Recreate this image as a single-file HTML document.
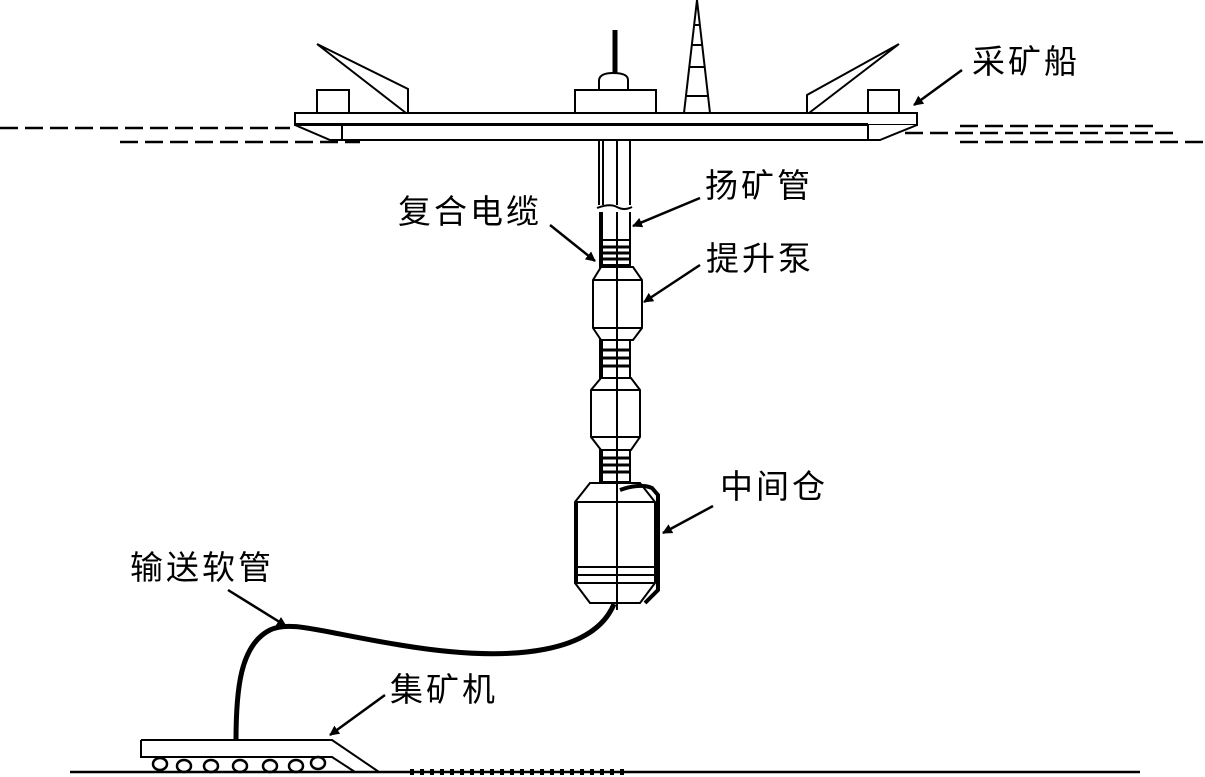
<!DOCTYPE html>
<html><head><meta charset="utf-8"><style>
html,body{margin:0;padding:0;background:#fff;}
svg{display:block;}
text{font-family:"Liberation Sans","Noto Sans CJK SC",sans-serif;font-size:33px;fill:#000;letter-spacing:3px;}
</style></head><body>
<svg width="1205" height="777" viewBox="0 0 1205 777" xmlns="http://www.w3.org/2000/svg">
<defs><marker id="a" markerWidth="10" markerHeight="10" refX="9" refY="5" orient="auto" markerUnits="userSpaceOnUse"><path d="M0,0 L10,5 L0,10 z" fill="#000"/></marker></defs>
<g stroke="#000" fill="none" stroke-width="2">
<path d="M0,128 H290 M120,142 H360 M905,133 H1180 M960,142 H1205 M960,126 H1160" stroke-dasharray="18,7" stroke-width="2.5"/>
<rect x="295" y="113" width="622" height="12" fill="#fff"/>
<path d="M295,125 L330,140 H880 L917,125" fill="#fff"/>
<path d="M295,124.5 H868" stroke-width="3"/>
<path d="M342,125 V140 M868,125 V140"/>
<rect x="317" y="90" width="32" height="23" fill="#fff"/>
<rect x="868" y="90" width="31" height="23" fill="#fff"/>
<path d="M317,44 L408,89 V113 M317,44 L406,113"/>
<path d="M899,44 L807,95 V113 M899,44 L809,113"/>
<rect x="575" y="90" width="81" height="23" fill="#fff"/>
<path d="M599,90 V80 Q600,73 613,73 Q628,73 628,80 V90 z" fill="#fff"/>
<path d="M615,30 V73" stroke-width="5"/>
<path d="M697,0 L684,113 M697,0 L710,113 M686,96 H708 M689,67 H705 M692,45 H702 M694,25 H700"/>
<path d="M599,140 V205 M603,140 V205 M617,140 V205 M630,140 V205"/>
<path d="M597,208 Q610,203 617,207 T632,207"/>
<path d="M601,212 V265 M617,212 V610 M630,212 V265"/>
<path d="M601,212 V600" stroke-width="4"/>
<rect x="601" y="240" width="29" height="25" fill="none"/>
<path d="M601,247 H630 M601,253 H630 M601,259 H630" stroke-width="3"/>
<path d="M601,267 L593,280 V328 L601,340 H633 L642,328 V280 L633,267 z" fill="#fff"/>
<path d="M593,280 H642 M593,328 H642 M617,267 V340"/>
<rect x="601" y="340" width="29" height="38" fill="none"/>
<path d="M601,350 H630 M601,358 H630 M601,366 H630" stroke-width="3"/>
<path d="M601,378 L591,390 V437 L601,450 H631 L640,437 V390 L631,378 z" fill="#fff"/>
<path d="M591,390 H640 M591,437 H640 M617,378 V450"/>
<rect x="601" y="450" width="29" height="32" fill="none"/>
<path d="M601,458 H630 M601,465 H630 M601,472 H630" stroke-width="3"/>
<path d="M601,450 V600" stroke-width="4"/>
<path d="M590,483 L575,502 V583 L590,603 H640 L655,583 V502 L640,483 z" fill="#fff"/>
<path d="M575,502 H655 M575,567 H655 M575,575 H655 M575,583 H655 M617,483 V603"/>
<path d="M576,502 V583" stroke-width="4"/>
<path d="M620,490 Q640,483 652,488 L658,495 V590 L645,603" stroke-width="4"/>
<path d="M614,604 C595,650 520,665 400,645 C320,632 290,620 270,630 C240,645 236,690 236,741" stroke-width="5"/>
<path d="M141,740 H332 L379,772 M141,740 V757 H332 L355,772"/>
<g stroke-width="2.5">
<ellipse cx="160" cy="764" rx="7" ry="6"/><ellipse cx="184" cy="766" rx="7" ry="6"/><ellipse cx="211" cy="766" rx="7" ry="6"/><ellipse cx="240" cy="766" rx="7" ry="6"/><ellipse cx="270" cy="766" rx="7" ry="6"/><ellipse cx="296" cy="766" rx="7" ry="6"/><ellipse cx="318" cy="763" rx="7" ry="6"/>
</g>
<path d="M70,772 H1140" stroke-width="2.5"/>
<path d="M410,772 H625" stroke-width="6" stroke-dasharray="4,6"/>
<g marker-end="url(#a)" stroke-width="2.5">
<path d="M962,70 L914,105"/>
<path d="M700,198 L633,226"/>
<path d="M550,225 L595,261"/>
<path d="M700,265 L644,302"/>
<path d="M713,506 L663,533"/>
<path d="M228,590 L286,626"/>
<path d="M385,695 L330,735"/>
</g>
</g>
<text x="972" y="73">采矿船</text>
<text x="705" y="197">扬矿管</text>
<text x="398" y="223">复合电缆</text>
<text x="706" y="270">提升泵</text>
<text x="720" y="498">中间仓</text>
<text x="130" y="579">输送软管</text>
<text x="390" y="701">集矿机</text>
</svg>
</body></html>
